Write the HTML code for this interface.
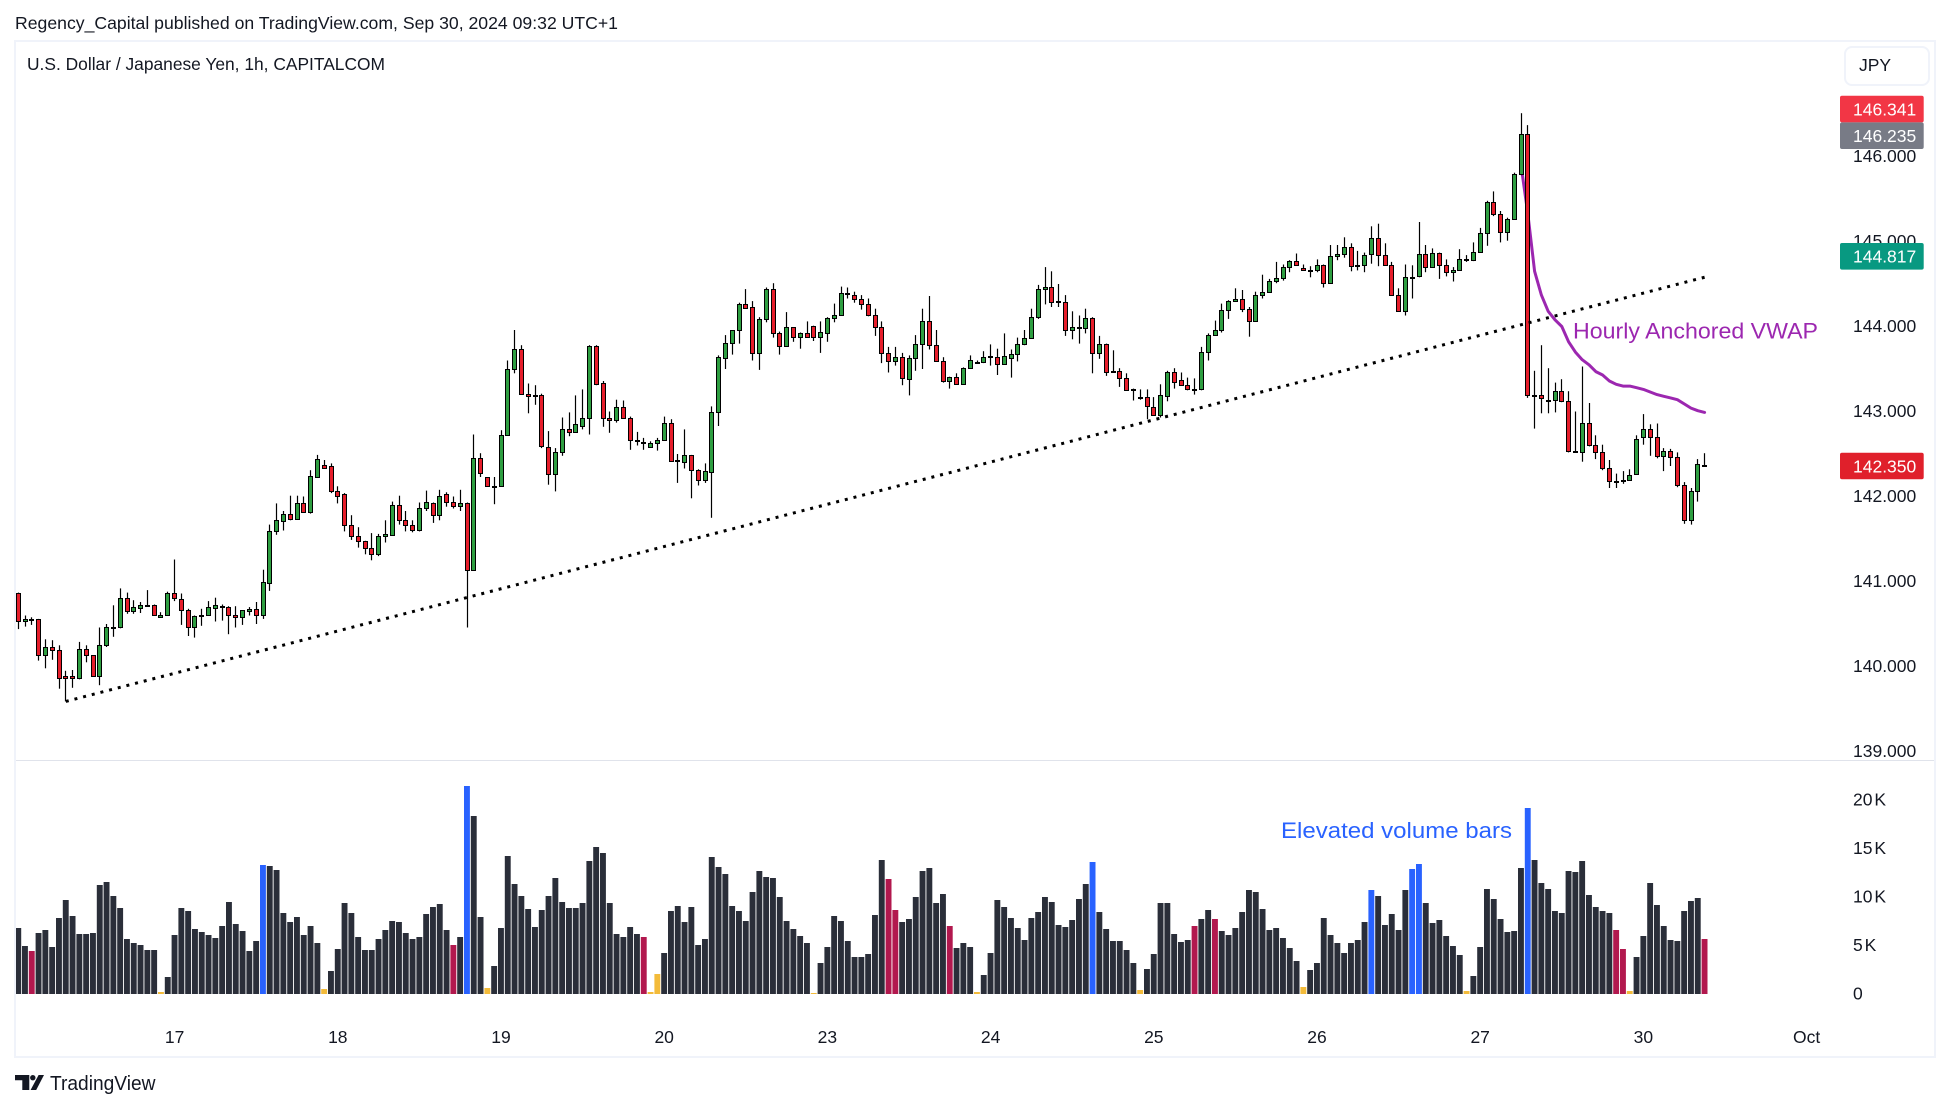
<!DOCTYPE html>
<html lang="en">
<head>
<meta charset="utf-8">
<title>USD/JPY 1h chart</title>
<style>
html,body{margin:0;padding:0;background:#fff;width:1950px;height:1110px;overflow:hidden}
svg{display:block;font-family:"Liberation Sans",sans-serif}
</style>
</head>
<body>
<svg id="chart" xmlns="http://www.w3.org/2000/svg" width="1950" height="1110" viewBox="0 0 1950 1110">
  <rect x="0" y="0" width="1950" height="1110" fill="#ffffff"/>
  <text x="15" y="29" font-size="17.5" fill="#131722" textLength="603" lengthAdjust="spacingAndGlyphs">Regency_Capital published on TradingView.com, Sep 30, 2024 09:32 UTC+1</text>
  <rect x="15" y="41" width="1920" height="1016" fill="none" stroke="#f0f3fa" stroke-width="2"/>
  <line x1="16" y1="760.5" x2="1934" y2="760.5" stroke="#e0e3eb" stroke-width="1"/>
  <text x="27" y="70" font-size="17.5" fill="#131722" textLength="358" lengthAdjust="spacingAndGlyphs">U.S. Dollar / Japanese Yen, 1h, CAPITALCOM</text>
  <rect x="1845" y="47" width="84" height="38" rx="7" fill="#ffffff" stroke="#f0f3fa" stroke-width="2"/>
  <text x="1859" y="71" font-size="17.5" fill="#131722">JPY</text>
  <g id="vwapLayer"></g>
  <g id="candleLayer"></g>
  <g id="trendLayer"></g>
  <g id="volumeLayer"></g>
  <g id="axisLayer"></g>
  <g id="badgeLayer"></g>
  <text x="1573" y="338.5" font-size="22" fill="#9c27b0" textLength="245" lengthAdjust="spacingAndGlyphs">Hourly Anchored VWAP</text>
  <text x="1281" y="838" font-size="22" fill="#2962ff" textLength="231" lengthAdjust="spacingAndGlyphs">Elevated volume bars</text>
  <g fill="#131722">
    <path d="M15 1075H29.3V1090H22.3V1080.2H15Z"/>
    <circle cx="32.8" cy="1077.7" r="2.7"/>
    <path d="M38.6 1075H44L36.2 1090H30.6Z"/>
    <text x="50" y="1090" font-size="20" textLength="105.5" lengthAdjust="spacingAndGlyphs">TradingView</text>
  </g>
</svg>
<script>
const opens = [
140.86,140.52,140.55,140.55,140.13,140.22,140.19,139.88,139.88,139.85,
140.20,140.12,139.88,140.24,140.46,140.45,140.80,140.64,140.68,140.72,
140.71,140.57,140.60,140.86,140.79,140.66,140.45,140.58,140.60,140.68,
140.70,140.69,140.60,140.57,140.64,140.67,140.60,140.97,141.58,141.70,
141.78,141.73,141.91,141.81,142.22,142.36,142.35,142.05,142.02,141.65,
141.52,141.47,141.39,141.32,141.53,141.54,141.89,141.71,141.65,141.60,
141.85,141.92,141.77,142.02,141.93,141.88,141.92,141.13,142.44,142.22,
142.11,142.11,142.71,143.49,143.73,143.20,143.18,143.18,142.57,142.25,
142.51,142.79,142.75,142.82,142.92,143.76,143.33,142.92,142.89,143.04,
142.92,142.66,142.63,142.57,142.62,142.66,142.86,142.42,142.40,142.48,
142.30,142.18,142.28,142.98,143.62,143.80,143.95,144.26,144.22,143.68,
144.08,144.43,143.91,143.76,143.98,143.87,143.92,144.00,143.87,143.92,
144.09,144.12,144.37,144.36,144.32,144.26,144.12,143.99,143.68,143.59,
143.63,143.37,143.62,143.78,144.06,143.77,143.59,143.35,143.40,143.32,
143.50,143.57,143.57,143.64,143.63,143.55,143.62,143.67,143.78,143.85,
144.10,144.43,144.45,144.29,144.28,143.95,143.98,143.97,144.09,143.68,
143.78,143.47,143.47,143.39,143.26,143.16,143.16,143.04,142.95,143.17,
143.45,143.36,143.30,143.26,143.26,143.69,143.89,143.95,144.18,144.29,
144.31,144.20,144.06,144.36,144.40,144.53,144.56,144.69,144.76,144.68,
144.65,144.66,144.72,144.50,144.82,144.84,144.93,144.70,144.72,144.84,
145.03,144.83,144.71,144.36,144.17,144.57,144.58,144.84,144.69,144.86,
144.72,144.63,144.66,144.79,144.77,144.87,145.09,145.46,145.31,145.10,
145.25,145.79,146.25,143.19,143.19,143.13,143.13,143.23,143.11,142.52,
142.51,142.86,142.60,142.51,142.33,142.17,142.17,142.18,142.25,142.69,
142.79,142.69,142.47,142.52,142.45,142.13,141.71,142.05,142.36];
const highs = [
140.86,140.59,140.57,140.55,140.31,140.30,140.24,139.94,139.95,140.28,
140.24,140.12,140.45,140.49,140.71,140.91,140.86,140.77,140.75,140.89,
140.72,140.63,140.87,141.25,140.85,140.67,140.59,140.67,140.76,140.80,
140.72,140.70,140.70,140.65,140.69,140.75,141.13,141.66,141.91,141.82,
142.00,142.00,141.99,142.30,142.48,142.42,142.38,142.11,142.03,141.77,
141.63,141.47,141.56,141.55,141.71,141.93,142.00,141.82,141.71,141.92,
142.06,141.92,142.07,142.04,141.99,142.07,141.92,142.72,142.50,142.22,
142.22,142.77,143.59,143.95,143.77,143.32,143.30,143.20,142.76,142.56,
142.92,142.98,143.18,143.25,143.77,143.77,143.35,142.99,143.13,143.12,
142.93,142.75,142.68,142.64,142.68,142.93,142.90,142.49,142.78,142.48,
142.31,142.38,143.05,143.65,143.89,143.95,144.27,144.43,144.29,144.10,
144.45,144.50,143.93,144.16,143.98,143.92,144.05,144.00,144.05,144.10,
144.26,144.46,144.45,144.40,144.36,144.32,144.20,144.05,143.75,143.75,
143.68,143.65,143.89,144.20,144.35,143.95,143.63,143.40,143.44,143.51,
143.65,143.59,143.70,143.78,143.73,143.91,143.72,143.86,143.95,144.20,
144.48,144.69,144.64,144.49,144.36,144.17,144.12,144.20,144.10,143.88,
143.79,143.71,143.50,143.44,143.26,143.25,143.25,143.16,143.31,143.47,
143.50,143.45,143.39,143.38,143.75,143.91,144.06,144.26,144.30,144.44,
144.42,144.22,144.40,144.60,144.55,144.75,144.72,144.77,144.85,144.72,
144.70,144.78,144.72,144.95,144.95,145.04,144.97,144.88,144.86,145.17,
145.20,144.97,144.75,144.44,144.72,144.71,145.22,144.95,144.91,144.86,
144.78,144.69,144.90,144.83,144.98,145.15,145.47,145.58,145.35,145.27,
145.80,146.50,146.36,143.47,143.77,143.50,143.33,143.37,143.23,142.99,
143.52,143.09,142.71,142.60,142.42,142.26,142.29,142.31,142.71,142.96,
142.84,142.85,142.56,142.55,142.51,142.16,142.09,142.43,142.50];
const lows = [
140.43,140.46,140.48,140.06,139.97,140.07,139.73,139.58,139.74,139.84,
140.04,139.88,139.77,140.22,140.34,140.44,140.61,140.61,140.62,140.71,
140.59,140.57,140.60,140.76,140.48,140.35,140.33,140.47,140.59,140.52,
140.53,140.37,140.45,140.48,140.59,140.49,140.55,140.88,141.54,141.59,
141.71,141.73,141.81,141.79,142.22,142.33,142.03,141.91,141.58,141.48,
141.39,141.31,141.24,141.29,141.45,141.54,141.66,141.58,141.57,141.58,
141.82,141.68,141.71,141.87,141.85,141.82,140.45,141.13,142.22,142.11,
141.90,142.11,142.71,143.44,143.19,142.97,143.07,142.56,142.13,142.05,
142.47,142.70,142.74,142.78,142.72,143.30,142.81,142.74,142.86,142.91,
142.54,142.59,142.54,142.57,142.53,142.66,142.41,142.15,142.32,141.97,
142.12,142.15,141.74,142.82,143.49,143.66,143.79,144.21,143.59,143.48,
144.04,143.86,143.66,143.76,143.81,143.73,143.87,143.82,143.68,143.81,
144.04,144.12,144.32,144.27,144.19,144.11,143.88,143.56,143.45,143.53,
143.30,143.18,143.47,143.49,143.72,143.59,143.33,143.26,143.31,143.32,
143.50,143.56,143.56,143.53,143.42,143.54,143.39,143.58,143.77,143.85,
144.08,144.25,144.22,144.22,143.88,143.84,143.79,143.91,143.44,143.61,
143.41,143.45,143.28,143.24,143.12,143.13,142.90,142.95,142.92,143.11,
143.26,143.30,143.24,143.19,143.24,143.59,143.89,143.92,144.08,144.28,
144.16,143.87,144.06,144.32,144.39,144.50,144.53,144.63,144.72,144.65,
144.57,144.63,144.45,144.49,144.77,144.80,144.64,144.65,144.63,144.73,
144.70,144.71,144.36,144.17,144.12,144.32,144.57,144.63,144.69,144.55,
144.58,144.52,144.66,144.75,144.76,144.87,144.94,145.29,144.98,145.00,
145.25,145.77,143.15,142.79,142.97,142.97,142.98,143.10,142.51,142.51,
142.40,142.58,142.43,142.30,142.09,142.09,142.14,142.18,142.25,142.60,
142.47,142.44,142.29,142.35,142.10,141.67,141.66,141.93,142.35];
const closes = [
140.53,140.55,140.55,140.13,140.22,140.19,139.85,139.86,139.85,140.20,
140.13,139.88,140.24,140.46,140.46,140.80,140.64,140.69,140.72,140.72,
140.60,140.60,140.86,140.80,140.66,140.45,140.58,140.60,140.69,140.71,
140.69,140.60,140.57,140.65,140.67,140.60,140.98,141.58,141.71,141.78,
141.73,141.91,141.81,142.23,142.43,142.33,142.05,142.00,141.65,141.52,
141.47,141.39,141.32,141.53,141.55,141.89,141.71,141.65,141.60,141.85,
141.93,141.77,142.00,141.93,141.88,141.92,141.13,142.44,142.27,142.11,
142.11,142.71,143.49,143.73,143.20,143.17,143.18,142.58,142.25,142.51,
142.79,142.75,142.84,142.92,143.76,143.32,142.92,142.89,143.04,142.92,
142.66,142.64,142.62,142.62,142.66,142.86,142.41,142.42,142.48,142.30,
142.18,142.29,142.98,143.63,143.80,143.95,144.26,144.21,143.68,144.08,
144.43,143.91,143.76,143.98,143.87,143.92,143.87,143.87,143.93,144.09,
144.12,144.38,144.38,144.32,144.26,144.12,143.99,143.68,143.59,143.63,
143.38,143.62,143.78,144.06,143.77,143.59,143.35,143.40,143.32,143.50,
143.60,143.56,143.63,143.64,143.55,143.64,143.67,143.78,143.85,144.10,
144.43,144.45,144.28,144.28,143.95,143.98,143.98,144.09,143.68,143.78,
143.46,143.46,143.38,143.24,143.25,143.15,143.05,142.95,143.18,143.45,
143.34,143.30,143.26,143.26,143.69,143.89,143.95,144.19,144.29,144.31,
144.20,144.05,144.36,144.40,144.53,144.56,144.69,144.76,144.72,144.65,
144.65,144.72,144.50,144.82,144.84,144.93,144.70,144.72,144.83,145.03,
144.83,144.71,144.36,144.17,144.57,144.57,144.84,144.69,144.86,144.72,
144.63,144.66,144.78,144.79,144.87,145.09,145.46,145.31,145.10,145.25,
145.79,146.25,143.18,143.19,143.15,143.13,143.23,143.11,142.52,142.52,
142.86,142.60,142.51,142.33,142.17,142.17,142.19,142.24,142.67,142.79,
142.69,142.47,142.52,142.45,142.13,141.71,142.05,142.37,142.35];
const volumesK = [
6.80,4.95,4.43,6.29,6.60,4.85,7.84,9.69,8.04,6.19,
6.19,6.29,11.24,11.55,10.10,8.87,5.67,5.26,5.05,4.54,
4.54,0.21,1.75,6.08,8.87,8.56,6.70,6.39,6.08,5.77,
7.01,9.48,7.22,6.49,4.43,5.46,13.30,13.20,12.78,8.35,
7.42,7.94,6.08,7.01,5.26,0.52,2.37,4.64,9.38,8.35,
5.88,4.54,4.54,5.67,6.60,7.53,7.42,6.29,5.67,5.88,
8.25,8.97,9.28,6.60,5.05,5.88,21.44,18.35,7.94,0.62,
2.89,6.80,14.23,11.34,10.10,8.76,6.91,8.66,10.10,11.96,
9.48,8.87,8.87,9.38,13.71,15.15,14.54,9.38,6.19,5.88,
6.91,6.19,5.88,0.21,2.06,4.23,8.56,9.07,7.42,8.97,
5.05,5.67,14.12,13.09,12.37,9.07,8.56,7.53,10.52,12.68,
12.06,11.96,10.00,7.53,6.70,5.98,5.26,0.10,3.20,4.85,
8.04,7.53,5.46,3.81,3.81,4.12,8.14,13.81,11.86,8.66,
7.42,7.73,10.00,12.68,12.99,9.38,10.31,7.01,4.74,5.26,
4.85,0.21,1.96,4.23,9.69,8.97,7.84,6.80,5.57,7.84,
8.45,10.00,9.48,7.11,6.91,7.63,9.79,11.34,13.61,8.45,
6.70,5.46,5.46,4.54,3.20,0.41,2.58,4.12,9.38,9.38,
6.19,5.36,5.57,7.01,7.73,8.66,7.73,6.49,6.08,6.80,
8.45,10.72,10.52,8.76,6.60,6.80,5.77,4.74,3.40,0.72,
2.47,3.20,7.84,6.08,5.26,4.23,5.26,5.57,7.42,10.72,
10.10,7.11,8.25,6.60,10.72,12.89,13.40,9.38,7.32,7.63,
5.98,4.95,4.02,0.31,1.86,4.85,10.82,9.79,7.73,6.39,
6.49,12.99,19.18,13.81,11.44,10.82,8.56,8.35,12.68,12.58,
13.71,10.21,8.97,8.56,8.35,6.60,4.64,0.31,3.81,5.98,
11.44,9.18,7.01,5.57,5.46,8.56,9.59,9.90,5.67];
const elevatedBars = [36,66,158,199,205,206,222];
const bearishVolumeBars = [2,64,92,128,129,137,173,176,235,236,248];
const lowVolumeBars = [21,45,69,93,94,117,141,165,189,213,237];
const vwapStartBar = 221;
const vwapValues = [145.89,145.32,144.64,144.36,144.17,144.07,143.99,143.81,143.69,143.60,143.54,143.46,143.42,143.35,143.31,143.29,143.29,143.27,143.25,143.22,143.19,143.17,143.15,143.13,143.08,143.03,143.00,142.98];
const trendBars = [7,248];
const trendPrices = [139.58,144.57];
const priceTicks = [146,145,144,143,142,141,140,139];
const volumeTicks = [20,15,10,5,0];
const dateLabels = ['17','18','19','20','23','24','25','26','27','30','Oct'];
const dateBars = [23,47,71,95,119,143,167,191,215,239,263];
const badgePrices = [146.341,146.235,144.817,142.350];
const badgeColors = ['#f23645','#787b86','#089981','#e0202b'];

const NS = 'http://www.w3.org/2000/svg';
function xOf(i){ return 18.2 + 6.8 * i; }
function yOf(p){ return 155.7 + (146 - p) * 85; }
function vOf(v){ return 994 - v * 9.7; }
function el(tag, attrs, parent){
  const n = document.createElementNS(NS, tag);
  for (const k in attrs) n.setAttribute(k, attrs[k]);
  parent.appendChild(n);
  return n;
}

/* VWAP */
const vwapLayer = document.getElementById('vwapLayer');
const vwapLine = el('polyline', {
  points: vwapValues.map((p, k) => xOf(vwapStartBar + k).toFixed(1) + ',' + yOf(p).toFixed(1)).join(' '),
  fill: 'none', stroke: '#9c27b0', 'stroke-width': 3, 'stroke-linejoin': 'round', 'stroke-linecap': 'round'
}, vwapLayer);



/* Candles */
const candleLayer = document.getElementById('candleLayer');
opens.forEach((o, i) => {
  const c = closes[i];
  const col = Math.floor(xOf(i));
  const g = el('g', {}, candleLayer);
  
  
  const wick = el('line', {
    x1: col + 0.5, x2: col + 0.5, y1: yOf(highs[i]).toFixed(1), y2: yOf(lows[i]).toFixed(1),
    stroke: '#000000', 'stroke-width': 1.2
  }, g);
  
  
  const top = Math.round(yOf(Math.max(o, c))) + 0.5;
  const bot = Math.round(yOf(Math.min(o, c))) + 0.5;
  const body = el('rect', {
    x: col - 1.5, y: top, width: 4, height: Math.max(bot - top, 1),
    fill: c >= o ? '#2e9e41' : '#e61e2b', stroke: '#000000', 'stroke-width': 1
  }, g);
  
  
});

/* Trendline: dot period is fitted so the last dot lands on the end anchor */
const trendLayer = document.getElementById('trendLayer');
const tx1 = xOf(trendBars[0]), ty1 = yOf(trendPrices[0]), tx2 = xOf(trendBars[1]), ty2 = yOf(trendPrices[1]);
const trendLen = Math.hypot(tx2 - tx1, ty2 - ty1);
const dotSize = 3;
const dotCount = Math.round(trendLen / 8.96);
const dotGap = (trendLen - dotSize) / dotCount - dotSize;
const trend = el('line', {
  x1: tx1, y1: ty1, x2: tx2, y2: ty2,
  stroke: '#000000', 'stroke-width': dotSize, 'stroke-dasharray': dotSize + ' ' + dotGap.toFixed(3)
}, trendLayer);



/* Volume */
const volumeLayer = document.getElementById('volumeLayer');
volumesK.forEach((v, i) => {
  let fill = '#2a2e39';
  if (elevatedBars.includes(i)) fill = '#2962ff';
  else if (bearishVolumeBars.includes(i)) fill = '#b2184e';
  else if (lowVolumeBars.includes(i)) fill = '#f3bb3a';
  const top = vOf(v);
  const bar = el('rect', {
    x: Math.max(xOf(i) - 3, 16).toFixed(1), y: top.toFixed(1),
    width: (i === 0 ? 5.2 : 5.9), height: (vOf(0) - top).toFixed(1), fill: fill
  }, volumeLayer);
  
  
});

/* Axis labels */
const axisLayer = document.getElementById('axisLayer');
priceTicks.forEach(p => {
  const t = el('text', { x: 1853, y: (yOf(p) + 6.3).toFixed(1), 'font-size': 17.5, fill: '#131722' }, axisLayer);
  
  
  t.textContent = p.toFixed(3);
});
volumeTicks.forEach(v => {
  const t = el('text', { x: 1853, y: (vOf(v) + 5.6).toFixed(1), 'font-size': 17.5, fill: '#131722', 'word-spacing': -3 }, axisLayer);
  
  
  t.textContent = v === 0 ? '0' : v + ' K';
});
dateLabels.forEach((d, k) => {
  const t = el('text', { x: xOf(dateBars[k]), y: 1043, 'font-size': 17.5, fill: '#131722', 'text-anchor': 'middle' }, axisLayer);
  
  
  t.textContent = d;
});

/* Price badges: stacked upward when they would overlap the badge below */
const badgeLayer = document.getElementById('badgeLayer');
const badgeH = 26.6;
const centers = badgePrices.map(yOf);
for (let k = centers.length - 2; k >= 0; k--) {
  if (centers[k + 1] - centers[k] < badgeH) centers[k] = centers[k + 1] - badgeH;
}
badgePrices.forEach((p, k) => {
  const g = el('g', {}, badgeLayer);
  
  
  const r = el('rect', { x: 1840, y: (centers[k] - badgeH / 2).toFixed(1), width: 83.7, height: badgeH, rx: 2, fill: badgeColors[k] }, g);
  
  
  const t = el('text', { x: 1853, y: (centers[k] + 6.3).toFixed(1), 'font-size': 17.5, fill: '#ffffff' }, g);
  
  
  t.textContent = p.toFixed(3);
});
</script>
</body>
</html>
